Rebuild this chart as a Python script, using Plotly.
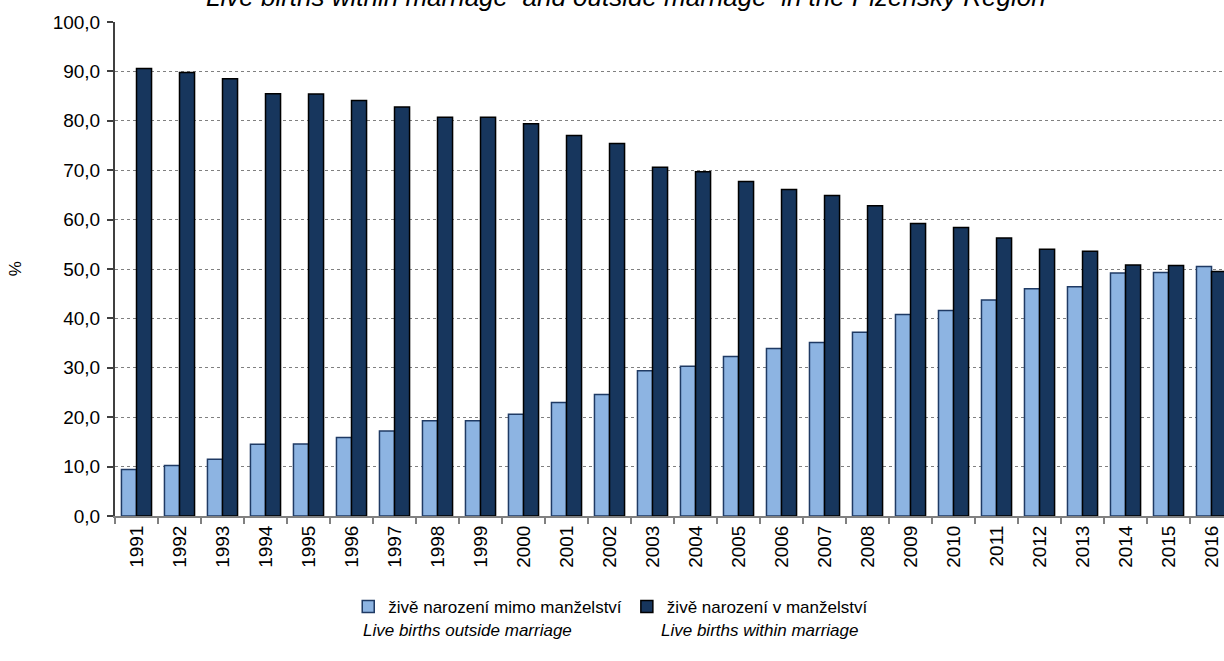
import plotly.graph_objects as go

years = [str(y) for y in range(1991, 2017)]

# živě narození mimo manželství (%)
outside = [9.4, 10.2, 11.5, 14.5, 14.6, 15.9, 17.2, 19.3, 19.3, 20.6,
           23.0, 24.6, 29.4, 30.3, 32.3, 33.9, 35.1, 37.2, 40.8, 41.6,
           43.7, 46.0, 46.4, 49.2, 49.3, 50.5]
# živě narození v manželství (%)
within = [90.6, 89.8, 88.5, 85.5, 85.4, 84.1, 82.8, 80.7, 80.7, 79.4,
          77.0, 75.4, 70.6, 69.7, 67.7, 66.1, 64.9, 62.8, 59.2, 58.4,
          56.3, 54.0, 53.6, 50.8, 50.7, 49.5]

legend_cz = ["živě narození mimo manželství", "živě narození v manželství"]
legend_en = ["Live births outside marriage", "Live births within marriage"]
title_text = "Live births within marriage  and outside marriage  in the Plzeňský Region"

FONT = "Liberation Sans, Arial, sans-serif"

fig = go.Figure()
fig.add_trace(go.Bar(
    x=years, y=outside, name=legend_cz[0],
    marker=dict(color="#8DB4E2", line=dict(color="#1F3A64", width=1.5)),
))
fig.add_trace(go.Bar(
    x=years, y=within, name=legend_cz[1],
    marker=dict(color="#17365D", line=dict(color="#000000", width=1.5)),
))

fig.update_layout(
    width=1224, height=661,
    margin=dict(l=115, r=0, t=22, b=145),
    paper_bgcolor="white", plot_bgcolor="white",
    barmode="group", bargap=0.3, bargroupgap=0,
    separators=",.",
    font=dict(family=FONT, size=18, color="black"),
    legend=dict(
        orientation="h", x=0.447, xanchor="center", y=-0.184, yanchor="middle",
        font=dict(size=17), itemwidth=30, traceorder="normal",
    ),
)

fig.update_xaxes(
    type="category", range=[-0.5, 25.29],
    tickangle=-90, tickson="boundaries",
    ticks="outside", ticklen=6, tickwidth=2, tickcolor="#808080",
    showline=True, linecolor="#808080", linewidth=2,
    showgrid=False, tickfont=dict(size=19),
)
fig.update_yaxes(
    range=[0, 100], dtick=10, tickformat=".1f",
    ticks="outside", ticklen=6, tickwidth=2, tickcolor="#404040",
    showline=True, linecolor="#404040", linewidth=2,
    showgrid=True, gridcolor="#808080", gridwidth=1, griddash="dot",
    zeroline=False, tickfont=dict(size=19), ticklabelstandoff=3,
)

# y axis title
fig.add_annotation(text="%", xref="paper", yref="paper", x=-0.09, y=0.5,
                   xanchor="center", showarrow=False, textangle=-90,
                   font=dict(size=17))

# English legend captions
for txt, xp in zip(legend_en, [0.318, 0.581]):
    fig.add_annotation(text=txt, xref="paper", yref="paper", x=xp, y=-0.255,
                       xanchor="center", showarrow=False,
                       font=dict(size=17, style="italic"))

# title (cut off at the top edge, as in the source)
fig.add_annotation(text=title_text, xref="paper", yref="paper", x=0.461, y=1.016,
                   xanchor="center", yanchor="bottom", showarrow=False,
                   font=dict(size=26, style="italic"))

fig.write_html("out.html", config={"displayModeBar": False},
               post_script="document.body.style.margin='0';")
